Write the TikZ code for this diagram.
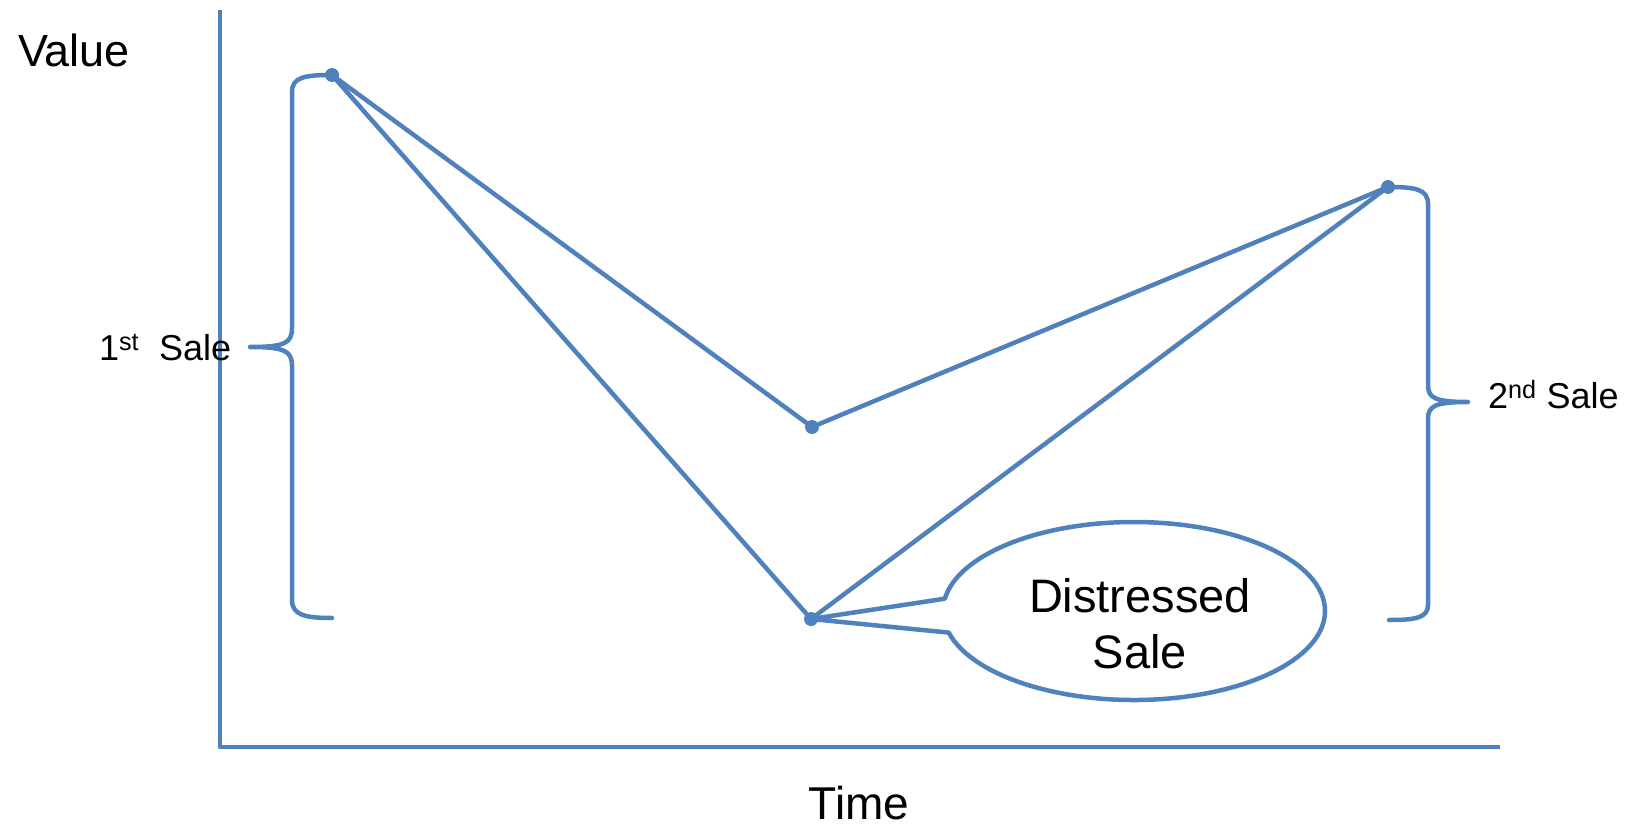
\documentclass[tikz,border=0pt]{standalone}
\usepackage{fontspec}
\setmainfont{Liberation Sans}
\usetikzlibrary{shapes.callouts}
\definecolor{lineblue}{RGB}{79,129,189}

\begin{document}
\begin{tikzpicture}[x=1pt,y=-1pt]
  \tikzset{curve style/.style = {draw=lineblue, line width=4.5pt, line join=round, line cap=round},
           dot style/.style = {circle, fill=lineblue, inner sep=0pt, minimum size=14pt},
           label style/.style = {inner sep=0pt, outer sep=0pt}}
  \useasboundingbox (0,0) rectangle (1634,824);

  \coordinate (ytop) at (220,10);
  \coordinate (origin) at (220,747);
  \coordinate (xend) at (1500,747);
  \draw[curve style, line cap=butt] (ytop) -- (origin) -- (xend);

  \node[dot style] (sale1) at (332,75) {};
  \node[dot style] (mild) at (812,427) {};
  \node[dot style] (distress) at (811,619) {};
  \node[dot style] (sale2) at (1388,187) {};

  \draw[curve style] (sale1) -- (mild) -- (sale2);
  \draw[curve style] (sale1) -- (distress) -- (sale2);

  \draw[curve style] (sale1.center) .. controls (305,75) and (292,77) .. (292,92) -- (292,328)
     .. controls (292,343) and (285,347) .. (250,347) .. controls (285,347) and (292,351) .. (292,366)
     -- (292,600) .. controls (292,615) and (305,618) .. (332,618);
  \draw[curve style] (sale2.center) .. controls (1415,187) and (1428,189) .. (1428,204) -- (1428,385)
     .. controls (1428,398) and (1435,402) .. (1468,402) .. controls (1435,402) and (1428,406) .. (1428,419)
     -- (1428,605) .. controls (1428,618) and (1415,620) .. (1389,620);

  \node[curve style, ellipse callout, fill=white, callout absolute pointer={(distress.center)},
        callout pointer arc=22, minimum width=382pt, minimum height=178pt, inner sep=0pt] (bubble) at (1134,611) {};
  \node[label style, anchor=base, align=center, font=\fontsize{47}{56}\selectfont] (bubbletext) at (1140,668) {Distressed\\Sale};

  \node[label style, anchor=base west, font=\fontsize{45}{54}\selectfont] (value) at (18,67) {Value};
  \node[label style, anchor=base, font=\fontsize{46}{55}\selectfont] (time) at (859,819) {Time};
  \node[label style, anchor=base west, font=\fontsize{36}{43}\selectfont] (first) at (99,360) {1\textsuperscript{st}\ \ Sale};
  \node[label style, anchor=base west, font=\fontsize{36}{43}\selectfont] (second) at (1488,408) {2\textsuperscript{nd} Sale};
\end{tikzpicture}
\end{document}
